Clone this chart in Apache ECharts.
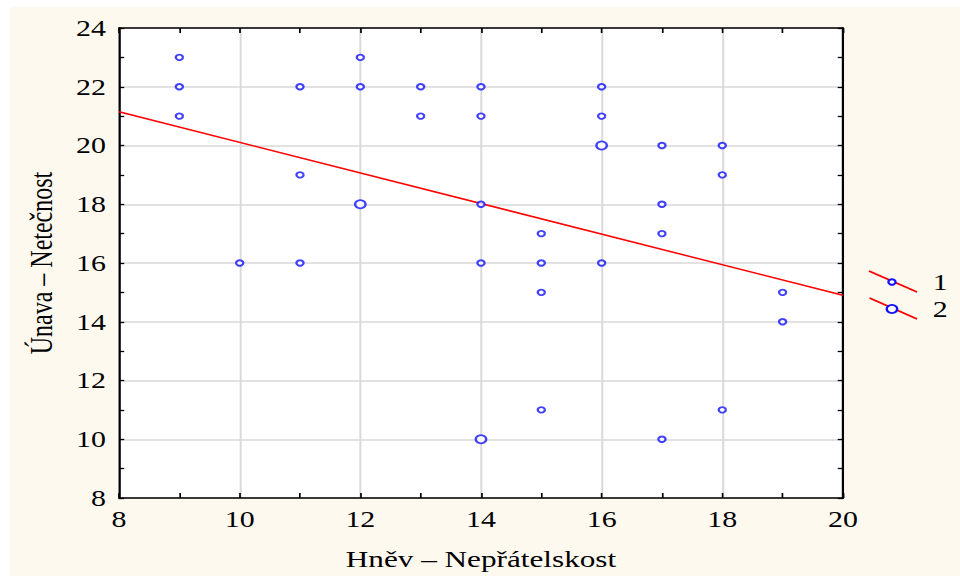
<!DOCTYPE html>
<html><head><meta charset="utf-8">
<script src="https://cdn.jsdelivr.net/npm/echarts@6/dist/echarts.min.js"></script>
<style>
html,body{margin:0;padding:0;background:#fff;overflow:hidden}
#bg{position:absolute;left:10px;top:7px;width:950px;height:569px;background:#fef9ef}
#c{position:absolute;left:0;top:0;width:738px;height:576px;transform:scale(1.3008,1);transform-origin:0 0}
</style>
</head><body><div id="bg"></div><div id="c"></div>
<script>
// count = 1 points [x, y]
const pointsCount1 = [
  [9,23],[9,22],[9,21],
  [10,16],
  [11,22],[11,19],[11,16],
  [12,23],[12,22],
  [13,22],[13,21],
  [14,22],[14,21],[14,18],[14,16],
  [15,17],[15,16],[15,15],[15,11],
  [16,22],[16,21],[16,16],
  [17,20],[17,18],[17,17],[17,10],
  [18,20],[18,19],[18,11],
  [19,15],[19,14]
];
// count = 2 points
const pointsCount2 = [[12,18],[14,10],[16,20]];
// regression line endpoints
const fitLine = [[8,21.15],[20,14.9]];
const legendLabels = ['1','2'];
const xTitle = 'Hněv – Nepřátelskost';
const yTitle = 'Únava – Netečnost';

const font = 'Liberation Serif';
const chart = echarts.init(document.getElementById('c'), null, {renderer: 'svg'});
function axisBase(tickLen) {
  return {
    min: 8, interval: 2,
    axisLine: {show: true, onZero: false, lineStyle: {color: '#000', width: 1.7}},
    axisTick: {show: true, inside: true, length: tickLen, lineStyle: {color: '#000', width: 1.3}},
    minorTick: {show: true, splitNumber: 2, length: tickLen, lineStyle: {color: '#000', width: 1.3}},
    axisLabel: {color: '#000', fontFamily: font, fontSize: 23, margin: 10}
  };
}
const split = {show: true, lineStyle: {color: '#d9d9d9', width: 1.5}};
const titleStyle = {color: '#000', fontFamily: font, fontSize: 24};
const markBlue = '#1010ff';
chart.setOption({
  backgroundColor: 'transparent',
  animation: false,
  grid: {left: 91.5, right: 90, top: 28, bottom: 77, show: true, backgroundColor: '#fff', borderWidth: 0},
  xAxis: [
    Object.assign(axisBase(5), {type: 'value', max: 20, position: 'bottom', splitLine: split,
      name: xTitle, nameLocation: 'middle', nameGap: 49, nameTextStyle: titleStyle}),
    Object.assign(axisBase(5), {type: 'value', max: 20, position: 'top',
      axisLabel: {show: false}, splitLine: {show: false}})
  ],
  yAxis: [
    Object.assign(axisBase(4), {type: 'value', max: 24, position: 'left', splitLine: split,
      name: yTitle, nameLocation: 'middle', nameGap: 48, nameTextStyle: titleStyle}),
    Object.assign(axisBase(4), {type: 'value', max: 24, position: 'right',
      axisLabel: {show: false}, splitLine: {show: false}})
  ],
  series: [
    {type: 'line', data: fitLine, showSymbol: false, symbol: 'none',
      lineStyle: {color: '#ff0000', width: 1.5}, z: 3},
    {type: 'scatter', data: pointsCount1, symbol: 'circle', symbolSize: 5.5,
      itemStyle: {color: '#fff', borderColor: markBlue, borderWidth: 1.8}, z: 4},
    {type: 'scatter', data: pointsCount2, symbol: 'circle', symbolSize: 8,
      itemStyle: {color: '#fff', borderColor: markBlue, borderWidth: 1.8}, z: 4}
  ],
  graphic: [
    {type: 'line', shape: {x1: 668, y1: 271, x2: 705, y2: 292}, style: {stroke: '#ff0000', lineWidth: 1.5}},
    {type: 'circle', shape: {cx: 685.7, cy: 282, r: 2.75}, style: {fill: '#fff', stroke: markBlue, lineWidth: 1.8}},
    {type: 'text', x: 717, y: 282, style: {text: legendLabels[0], fill: '#000', font: '23px "Liberation Serif"', verticalAlign: 'middle'}},
    {type: 'line', shape: {x1: 668.5, y1: 298, x2: 705, y2: 319}, style: {stroke: '#ff0000', lineWidth: 1.5}},
    {type: 'circle', shape: {cx: 685.7, cy: 309, r: 4}, style: {fill: '#fff', stroke: markBlue, lineWidth: 1.8}},
    {type: 'text', x: 717, y: 309, style: {text: legendLabels[1], fill: '#000', font: '23px "Liberation Serif"', verticalAlign: 'middle'}}
  ]
});
</script></body></html>
